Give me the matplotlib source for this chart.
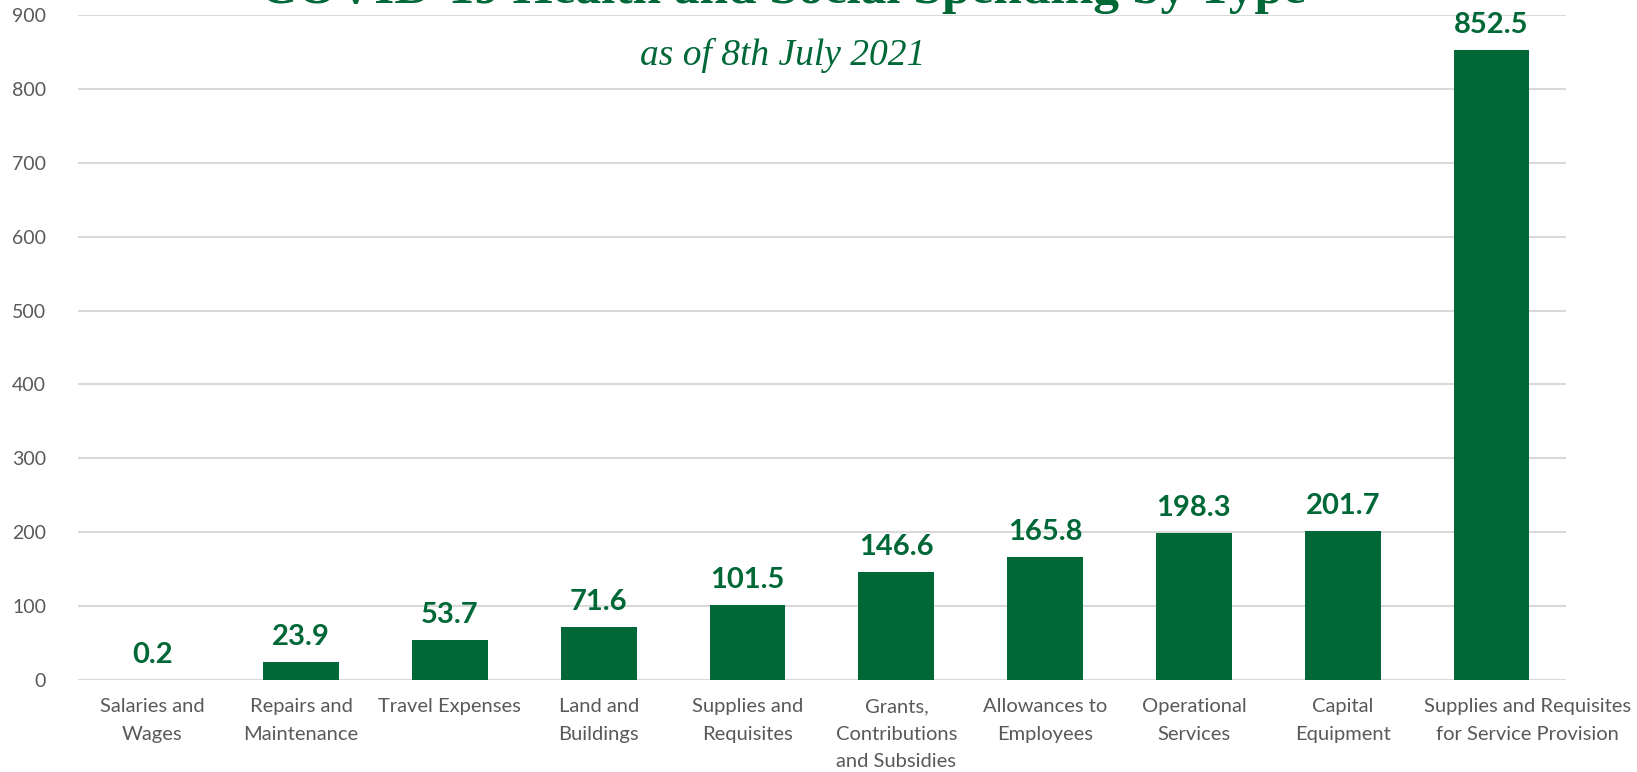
import matplotlib.pyplot as plt
import matplotlib.transforms as mtransforms
import numpy as np

# spending by type, as of 8th July 2021
categories = ['Salaries and\nWages', 'Repairs and\nMaintenance', 'Travel Expenses',
              'Land and\nBuildings', 'Supplies and\nRequisites',
              'Grants,\nContributions\nand Subsidies', 'Allowances to\nEmployees',
              'Operational\nServices', 'Capital\nEquipment',
              'Supplies and Requisites\nfor Service Provision']
values = [0.2, 23.9, 53.7, 71.6, 101.5, 146.6, 165.8, 198.3, 201.7, 852.5]
yticks = [0, 100, 200, 300, 400, 500, 600, 700, 800, 900]

green = '#006837'
grey = '#595959'

plt.rcParams['font.family'] = ['Lato', 'DejaVu Sans']

fig = plt.figure(figsize=(16.37, 7.72), dpi=100)
ax = fig.add_axes([0.0476, 0.1192, 0.909, 0.8614])

x = np.arange(len(categories))
bars = ax.bar(x, values, width=0.51, color=green, zorder=3)

for b, v in zip(bars, values):
    ax.annotate(f'{v:.1f}', (b.get_x() + b.get_width() / 2, v),
                xytext=(0, 18), textcoords='offset points',
                ha='center', va='center', fontsize=21, fontweight='bold',
                color=green)

ax.set_xlim(-0.5, len(categories) - 0.5)
ax.set_ylim(0, 900)
ax.set_yticks(yticks)
ax.set_xticks(x)
ax.set_xticklabels(categories, fontsize=14.5, color=grey, linespacing=1.75)
ax.tick_params(axis='x', length=0, pad=13)
ax.tick_params(axis='y', length=0, pad=23, labelsize=14, labelcolor=grey)
ax.yaxis.grid(True, color='#d9d9d9', linewidth=1.5, zorder=0)
for s in ax.spines.values():
    s.set_visible(False)

# last label sits a bit to the right, as in the original
last = ax.get_xticklabels()[-1]
last.set_transform(last.get_transform() +
                   mtransforms.ScaledTranslation(0.36, 0, fig.dpi_scale_trans))

fig.text(0.4783, 1 - 3 / 772, 'COVID-19 Health and Social Spending by Type',
         ha='center', va='baseline', fontsize=37, fontweight='bold',
         color=green, family='Liberation Serif')
fig.text(0.4783, 1 - 65 / 772, 'as of 8th July 2021',
         ha='center', va='baseline', fontsize=27, style='italic',
         color=green, family='Liberation Serif')

fig.savefig('out.png', dpi=100)
